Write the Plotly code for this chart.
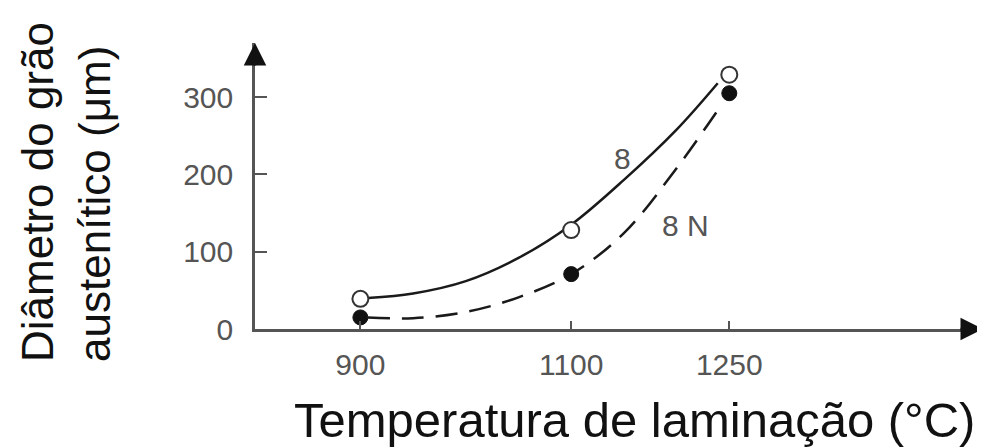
import plotly.graph_objects as go

# Data
temps = [900, 1100, 1250]
grain_8 = [39, 128, 329]      # open circles, steel "8"
grain_8N = [15, 71, 305]      # filled circles, steel "8 N"

# fitted curves
curve8_x = [907, 950, 1000, 1050, 1100, 1150, 1200, 1239]
curve8_y = [40, 46, 62, 92, 135, 193, 258, 318]
curve8N_x = [907, 950, 1000, 1050, 1100, 1150, 1200, 1239]
curve8N_y = [15, 14, 22, 41, 71, 124, 208, 283]

x_ticks = [900, 1100, 1250]
y_ticks = [0, 100, 200, 300]

FONT = "Liberation Sans, Arial, sans-serif"
AX = "#555555"

fig = go.Figure()
fig.add_trace(go.Scatter(x=curve8_x, y=curve8_y, mode="lines", line_shape="spline",
                         line=dict(color="#1a1a1a", width=2.5), hoverinfo="skip"))
fig.add_trace(go.Scatter(x=curve8N_x, y=curve8N_y, mode="lines", line_shape="spline",
                         line=dict(color="#1a1a1a", width=2.5, dash="22px,12px"), hoverinfo="skip"))
fig.add_trace(go.Scatter(x=temps, y=grain_8, mode="markers", cliponaxis=False,
                         marker=dict(symbol="circle", size=16, color="white",
                                     line=dict(color="#333333", width=2))))
fig.add_trace(go.Scatter(x=temps, y=grain_8N, mode="markers", cliponaxis=False,
                         marker=dict(symbol="circle", size=15, color="#111111",
                                     line=dict(color="#111111", width=1))))

# page has an 8px body margin: figure is 977x440 placed at (8, 8)
fig.update_layout(
    width=977, height=440,
    margin=dict(l=247, r=2, t=35, b=119),
    paper_bgcolor="white", plot_bgcolor="white",
    showlegend=False,
    font=dict(family=FONT, color=AX),
    xaxis=dict(range=[800, 1490.7], tickvals=x_ticks, ticktext=[str(v) for v in x_ticks],
               showgrid=False, zeroline=False, showline=True, linecolor=AX, linewidth=2.5,
               ticks="inside", ticklen=8, tickwidth=2, tickcolor=AX,
               tickfont=dict(size=30, color=AX, family=FONT), ticklabelstandoff=7),
    yaxis=dict(range=[0, 370], tickvals=y_ticks, ticktext=[str(v) for v in y_ticks],
               showgrid=False, zeroline=False, showline=True, linecolor=AX, linewidth=2.5,
               ticks="inside", ticklen=12, tickwidth=2, tickcolor=AX,
               tickfont=dict(size=30, color=AX, family=FONT), ticklabelstandoff=13),
)

annotations = [
    # axis arrows
    dict(x=800, y=370, xref="x", yref="y", ax=0, ay=24,
         text="", showarrow=True, arrowhead=2, arrowsize=1.8, arrowwidth=2.5, arrowcolor="#111111"),
    dict(x=1490.7, y=0, xref="x", yref="y", ax=-24, ay=0,
         text="", showarrow=True, arrowhead=2, arrowsize=1.8, arrowwidth=2.5, arrowcolor="#111111"),
    # curve labels
    dict(x=1149, y=221, xref="x", yref="y", text="8", showarrow=False,
         font=dict(size=30, color=AX, family=FONT)),
    dict(x=1208, y=134, xref="x", yref="y", text="8 N", showarrow=False,
         font=dict(size=30, color=AX, family=FONT)),
    # axis titles
    dict(x=(66 - 255) / 728, y=(329 - 192) / 286, xref="paper", yref="paper",
         text="Diâmetro do grão<br>austenítico (μm)", showarrow=False, textangle=-90,
         xanchor="center", yanchor="middle", align="left",
         font=dict(size=44, color="#111111", family=FONT)),
    dict(x=(634 - 255) / 728, y=(329 - 420) / 286, xref="paper", yref="paper",
         text="Temperatura de laminação (°C)", showarrow=False,
         xanchor="center", yanchor="middle",
         font=dict(size=49, color="#111111", family=FONT)),
]
fig.update_layout(annotations=annotations)

fig.write_html("out.html")
